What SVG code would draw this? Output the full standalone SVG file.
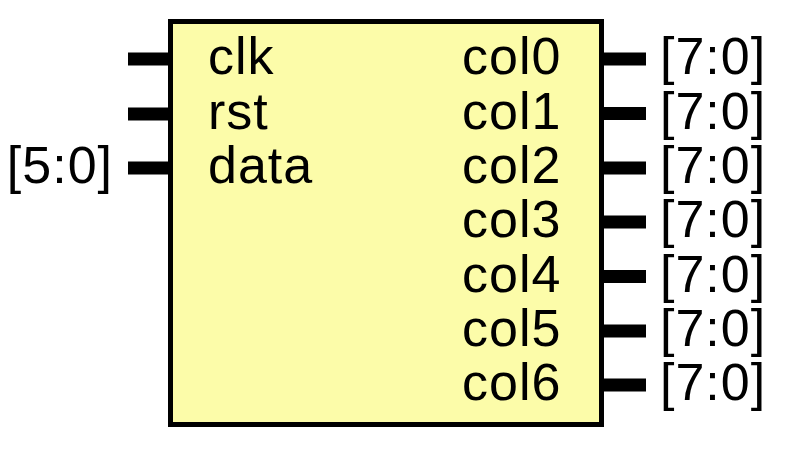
<svg xmlns="http://www.w3.org/2000/svg" width="792" height="452" viewBox="0 0 792 452">
<style>
.t{font-family:"Liberation Sans",Arial,Helvetica,sans-serif;font-size:52px;letter-spacing:1px;fill:#000}
.w{stroke:#000;stroke-width:13;fill:none}
.e{text-anchor:end}
</style>
<rect width="792" height="452" fill="#fff"/>
<g id="connectors">
<line class="w" x1="128" y1="59" x2="170" y2="59"/>
<line class="w" x1="128" y1="114" x2="170" y2="114"/>
<line class="w" x1="128" y1="168" x2="170" y2="168"/>
<line class="w" x1="602" y1="59" x2="646" y2="59"/>
<line class="w" x1="602" y1="113.5" x2="646" y2="113.5"/>
<line class="w" x1="602" y1="168" x2="646" y2="168"/>
<line class="w" x1="602" y1="222" x2="646" y2="222"/>
<line class="w" x1="602" y1="276.5" x2="646" y2="276.5"/>
<line class="w" x1="602" y1="331" x2="646" y2="331"/>
<line class="w" x1="602" y1="385" x2="646" y2="385"/>
<text class="t e" x="113" y="183">[5:0]</text>
<text class="t" x="660" y="74">[7:0]</text>
<text class="t" x="660" y="128.5">[7:0]</text>
<text class="t" x="660" y="183">[7:0]</text>
<text class="t" x="660" y="237">[7:0]</text>
<text class="t" x="660" y="291.5">[7:0]</text>
<text class="t" x="660" y="346">[7:0]</text>
<text class="t" x="660" y="400">[7:0]</text>
</g>
<g id="block">
<rect x="170.5" y="21.5" width="431" height="403" fill="#fcfca9" stroke="#000" stroke-width="5"/>
<text class="t" x="208" y="74">clk</text>
<text class="t" x="208" y="128.5">rst</text>
<text class="t" x="208" y="183">data</text>
<text class="t" x="462" y="74">col0</text>
<text class="t" x="462" y="128.5">col1</text>
<text class="t" x="462" y="183">col2</text>
<text class="t" x="462" y="237">col3</text>
<text class="t" x="462" y="291.5">col4</text>
<text class="t" x="462" y="346">col5</text>
<text class="t" x="462" y="400">col6</text>
</g>
</svg>
